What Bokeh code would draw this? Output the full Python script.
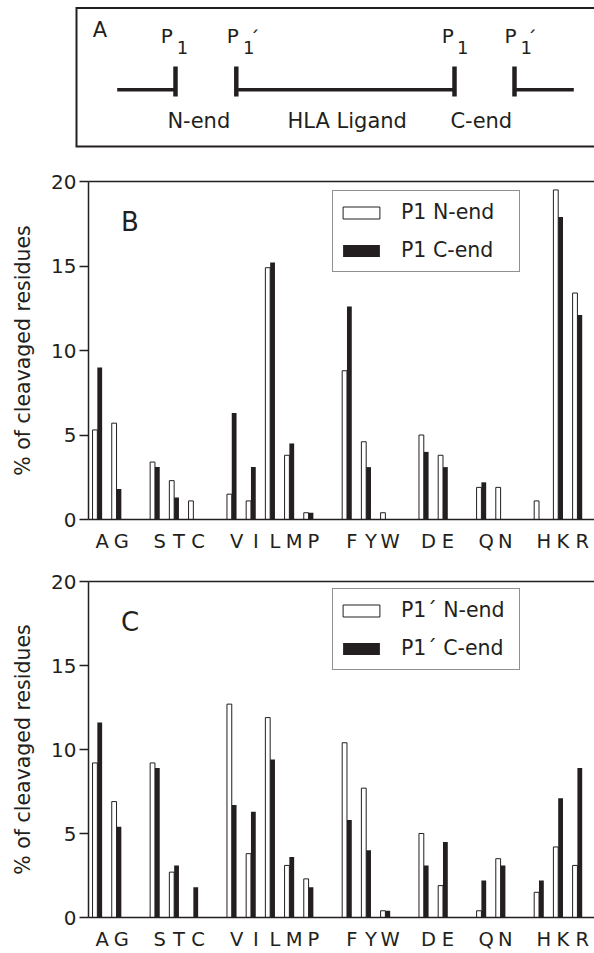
from bokeh.plotting import figure
from bokeh.layouts import column
from bokeh.models import (Range1d, LinearAxis, FixedTicker, Legend, LegendItem,
                          Label, ColumnDataSource)
from bokeh.embed import file_html
from bokeh.resources import INLINE
from bokeh.core.properties import value

FONT = "DejaVu Sans"
INK = "#231f20"

# ---------------- data ----------------
residues = ["A", "G", "S", "T", "C", "V", "I", "L", "M", "P",
            "F", "Y", "W", "D", "E", "Q", "N", "H", "K", "R"]
group_sizes = [2, 3, 5, 3, 2, 2, 3]

# Panel B: P1
p1_n_end = [5.3, 5.7, 3.4, 2.3, 1.1, 1.5, 1.1, 14.9, 3.8, 0.4,
            8.8, 4.6, 0.4, 5.0, 3.8, 1.9, 1.9, 1.1, 19.5, 13.4]
p1_c_end = [9.0, 1.8, 3.1, 1.3, 0.0, 6.3, 3.1, 15.2, 4.5, 0.4,
            12.6, 3.1, 0.0, 4.0, 3.1, 2.2, 0.0, 0.0, 17.9, 12.1]

# Panel C: P1'
p1p_n_end = [9.2, 6.9, 9.2, 2.7, 0.0, 12.7, 3.8, 11.9, 3.1, 2.3,
             10.4, 7.7, 0.4, 5.0, 1.9, 0.4, 3.5, 1.5, 4.2, 3.1]
p1p_c_end = [11.6, 5.4, 8.9, 3.1, 1.8, 6.7, 6.3, 9.4, 3.6, 1.8,
             5.8, 4.0, 0.4, 3.1, 4.5, 2.2, 3.1, 2.2, 7.1, 8.9]

y_ticks = [0, 5, 10, 15, 20]
y_label = "% of cleavaged residues"

# slot positions: one empty slot between residue groups
slots = []
s = 0
for g in group_sizes:
    for _ in range(g):
        slots.append(s)
        s += 1
    s += 1

BAR_W = 0.25
LABEL_SHIFT = 0.25


def make_panel(n_vals, c_vals, n_label, c_label, letter, height, top, bottom, x_standoff):
    p = figure(width=594, height=height, output_backend="svg", toolbar_location=None,
               x_range=Range1d(-0.46, 25.89), y_range=Range1d(0, 20),
               min_border_left=88, min_border_right=0,
               min_border_top=top, min_border_bottom=bottom,
               x_axis_location=None, y_axis_location=None)
    p.frame_align = False
    p.outline_line_color = None
    p.xgrid.grid_line_color = None
    p.ygrid.grid_line_color = None
    p.background_fill_color = "white"

    yax = LinearAxis(ticker=FixedTicker(ticks=y_ticks), axis_label=y_label)
    yax.axis_line_color = INK
    yax.axis_line_width = 1.5
    yax.major_tick_line_color = INK
    yax.major_tick_line_width = 1.5
    yax.major_tick_out = 9
    yax.major_tick_in = 0
    yax.minor_tick_line_color = None
    yax.major_label_text_font = FONT
    yax.major_label_text_font_size = "20px"
    yax.major_label_text_color = INK
    yax.major_label_standoff = 3
    yax.axis_label_text_font = FONT
    yax.axis_label_text_font_size = "20.5px"
    yax.axis_label_text_font_style = "normal"
    yax.axis_label_text_color = INK
    yax.axis_label_standoff = 13
    p.add_layout(yax, "left")

    ticks = [sl + LABEL_SHIFT for sl in slots]
    xax = LinearAxis(ticker=FixedTicker(ticks=ticks))
    xax.major_label_overrides = {t: r for t, r in zip(ticks, residues)}
    xax.axis_line_color = INK
    xax.axis_line_width = 1.5
    xax.major_tick_line_color = None
    xax.major_tick_out = 0
    xax.major_tick_in = 0
    xax.minor_tick_line_color = None
    xax.major_label_text_font = FONT
    xax.major_label_text_font_size = "19.5px"
    xax.major_label_text_color = INK
    xax.major_label_standoff = x_standoff
    p.add_layout(xax, "below")

    tax = LinearAxis(ticker=FixedTicker(ticks=[]))
    tax.axis_line_color = INK
    tax.axis_line_width = 1.5
    tax.major_tick_line_color = None
    tax.minor_tick_line_color = None
    tax.major_tick_out = 0
    tax.major_tick_in = 0
    tax.major_label_text_font_size = "0px"
    tax.major_label_standoff = 0
    p.add_layout(tax, "above")

    src = ColumnDataSource(dict(
        xn=[sl - BAR_W / 2 for sl in slots],
        xc=[sl + BAR_W / 2 for sl in slots],
        n=n_vals, c=c_vals))
    rn = p.vbar(x="xn", top="n", bottom=0, width=BAR_W, source=src,
                fill_color="white", line_color=INK, line_width=1)
    rc = p.vbar(x="xc", top="c", bottom=0, width=BAR_W, source=src,
                fill_color=INK, line_color=None)

    legend = Legend(items=[LegendItem(label=n_label, renderers=[rn]),
                           LegendItem(label=c_label, renderers=[rc])],
                    location=(244, 247), orientation="vertical",
                    padding=5, spacing=6, margin=0,
                    glyph_width=46, glyph_height=15, label_standoff=17,
                    label_width=113, label_height=32,
                    label_text_font=FONT, label_text_font_size="20.5px",
                    label_text_color=INK, border_line_color=INK,
                    border_line_width=1.5, background_fill_color="white",
                    background_fill_alpha=1.0)
    p.add_layout(legend)

    p.add_layout(Label(x=1.23, y=17.6, text=letter, text_font=FONT,
                       text_font_size="26px", text_color=INK,
                       text_baseline="middle"))
    return p


# ---------------- panel A: schematic (page pixel coordinates) ----------------
pa = figure(width=594, height=150, output_backend="svg", toolbar_location=None,
            x_range=Range1d(0, 594), y_range=Range1d(150, 0), min_border=0,
            x_axis_location=None, y_axis_location=None)
pa.frame_align = False
pa.outline_line_color = None
pa.xgrid.grid_line_color = None
pa.ygrid.grid_line_color = None

box_x = [600, 76, 76, 600]
box_y = [7.5, 7.5, 146, 146]
pa.line(x=box_x, y=box_y, line_width=2, line_color=INK, line_join="miter")

seg_x0 = [116.7, 235.8, 514.0]
seg_x1 = [175.0, 454.0, 573.3]
seg_y = 89.3
pa.segment(x0=seg_x0, y0=[seg_y] * 3, x1=seg_x1, y1=[seg_y] * 3,
           line_width=3.5, line_color=INK)
cut_x = [175.0, 235.8, 454.0, 514.0]
pa.segment(x0=cut_x, y0=[66] * 4, x1=cut_x, y1=[96] * 4,
           line_width=4.5, line_color=INK)

pa.text(x=[92.3], y=[29.5], text=["A"], text_font=value(FONT),
        text_font_size="21px", text_color=INK, text_baseline="middle",
        text_align="left")

p_x = [160.2, 226.2, 441.2, 503.9]
pa.text(x=p_x, y=[35] * 4, text=["P"] * 4, text_font=value(FONT),
        text_font_size="20px", text_color=INK, text_baseline="middle",
        text_align="left")
sub_x = [176.3, 242.6, 456.6, 520.0]
pa.text(x=sub_x, y=[46.5] * 4, text=["1"] * 4, text_font=value(FONT),
        text_font_size="18px", text_color=INK, text_baseline="middle",
        text_align="left")
prime_x = [248.9, 526.2]
pa.text(x=prime_x, y=[37.7] * 2, text=["\u00b4"] * 2, text_font=value(FONT),
        text_font_size="20px", text_color=INK, text_baseline="middle",
        text_align="left")

region_x = [198.3, 346.7, 480.8]
region_text = ["N-end", "HLA Ligand", "C-end"]
pa.text(x=region_x, y=[120] * 3, text=region_text, text_font=value(FONT),
        text_font_size="21px", text_color=INK, text_baseline="middle",
        text_align="center")

# ---------------- panels B and C ----------------
pb = make_panel(p1_n_end, p1_c_end, "P1 N-end", "P1 C-end", "B",
                height=410, top=31, bottom=41, x_standoff=10)
pc = make_panel(p1p_n_end, p1p_c_end, "P1\u00b4 N-end", "P1\u00b4 C-end", "C",
                height=393, top=21, bottom=34, x_standoff=10)

layout = column(pa, pb, pc, spacing=0)

open("out.html", "w").write(file_html(layout, INLINE))
